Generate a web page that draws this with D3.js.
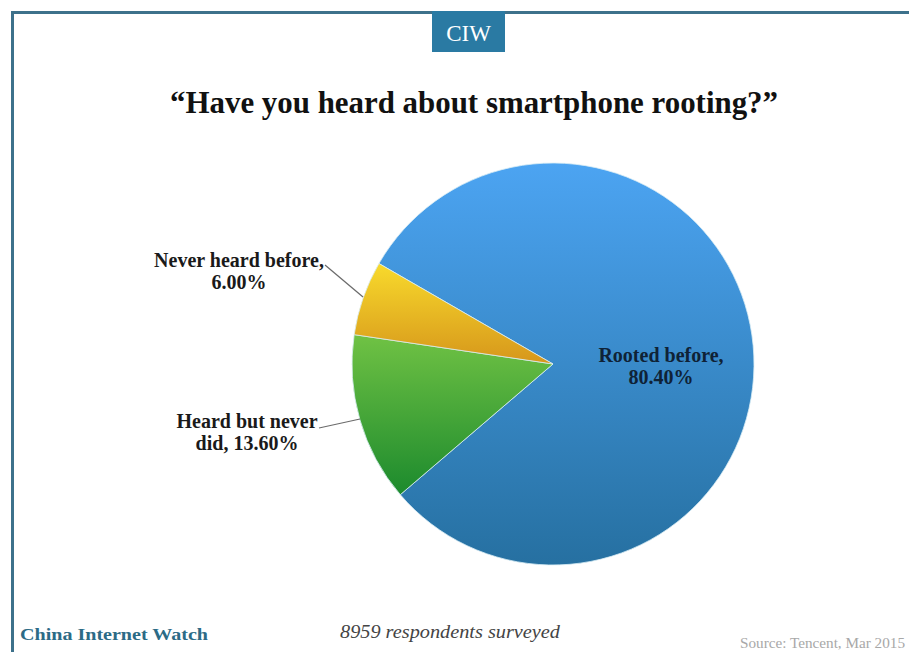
<!DOCTYPE html>
<html>
<head>
<meta charset="utf-8">
<script src="https://cdn.jsdelivr.net/npm/d3@7"></script>
<style>
  html, body { margin: 0; padding: 0; background: #fff; }
  svg text { font-family: "Liberation Serif", "Times New Roman", serif; }
</style>
</head>
<body>
<div id="chart"></div>
<script>
// data
var categories = ["Rooted before", "Heard but never did", "Never heard before"];
var shares = [80.4, 13.6, 6.0];
var labelLines = [["Rooted before,", "80.40%"], ["Heard but never", "did, 13.60%"], ["Never heard before,", "6.00%"]];
var gradStops = [["#4ca4f2", "#2670a1"], ["#70c244", "#1c8a2d"], ["#f8da2c", "#d6961b"]];

var W = 909, H = 652,
    cx = 553, cy = 364, R = 201;

var svg = d3.select("#chart").append("svg")
    .attr("width", W).attr("height", H)
    .attr("viewBox", "0 0 " + W + " " + H);

var defs = svg.append("defs");
gradStops.forEach(function(s, i){
  var g = defs.append("linearGradient").attr("id", "g" + i)
      .attr("x1", 0).attr("y1", 0).attr("x2", 0).attr("y2", 1);
  g.append("stop").attr("offset", "0%").attr("stop-color", s[0]);
  g.append("stop").attr("offset", "100%").attr("stop-color", s[1]);
});

// frame
svg.append("path")
   .attr("d", "M12.5," + H + " V12.5 H" + W)
   .attr("fill", "none").attr("stroke", "#3d718b").attr("stroke-width", 3);

// CIW badge
svg.append("rect").attr("x", 432).attr("y", 11).attr("width", 73).attr("height", 41)
   .attr("fill", "#2a7aa3");
svg.append("text").attr("x", 468.5).attr("y", 41).attr("text-anchor", "middle")
   .attr("fill", "#fff").attr("font-size", 23).text("CIW");

// title
svg.append("text").attr("x", 170).attr("y", 113)
   .attr("font-size", 32).attr("font-weight", "bold").attr("fill", "#111")
   .attr("textLength", 608).attr("lengthAdjust", "spacingAndGlyphs")
   .text("\u201CHave you heard about smartphone rooting?\u201D");

// pie
var pie = d3.pie().sort(null)
    .startAngle(-Math.PI / 3).endAngle(-Math.PI / 3 + 2 * Math.PI);
var arc = d3.arc().innerRadius(0).outerRadius(R);
var arcs = pie(shares);

var g = svg.append("g").attr("transform", "translate(" + cx + "," + cy + ")");
g.selectAll("path.slice").data(arcs).enter().append("path")
  .attr("class", "slice")
  .attr("d", arc)
  .attr("fill", function(d, i){ return "url(#g" + i + ")"; })
  .attr("stroke", "#d9eef5").attr("stroke-width", 0.8);

// labels
var labelPos = [
  {x: 661, y: 362, line: null},
  {x: 247, y: 428, line: [[319, 428], [360, 419]]},
  {x: 239, y: 267, line: [[325, 265], [363, 297]]}
];

labelPos.forEach(function(p, i){
  if (p.line) {
    svg.append("path").attr("d", d3.line()(p.line))
       .attr("fill", "none").attr("stroke", "#6b6b6b").attr("stroke-width", 1.2);
  }
  var t = svg.append("text").attr("text-anchor", "middle")
     .attr("font-size", 20).attr("font-weight", "bold")
     .attr("fill", i === 0 ? "#0f2236" : "#1a1a1a");
  labelLines[i].forEach(function(s, k){
    t.append("tspan").attr("x", p.x).attr("y", p.y + k * 22).text(s);
  });
});

// footer
svg.append("text").attr("x", 20).attr("y", 640)
   .attr("font-size", 17).attr("font-weight", "bold").attr("fill", "#2c6b86")
   .attr("textLength", 188).attr("lengthAdjust", "spacingAndGlyphs")
   .text("China Internet Watch");
svg.append("text").attr("x", 340).attr("y", 638)
   .attr("font-size", 19).attr("font-style", "italic").attr("fill", "#444")
   .attr("textLength", 220).attr("lengthAdjust", "spacingAndGlyphs")
   .text("8959 respondents surveyed");
svg.append("text").attr("x", 740).attr("y", 648)
   .attr("font-size", 14).attr("fill", "#a8a8a8")
   .attr("textLength", 165).attr("lengthAdjust", "spacingAndGlyphs")
   .text("Source: Tencent, Mar 2015");
</script>
</body>
</html>
